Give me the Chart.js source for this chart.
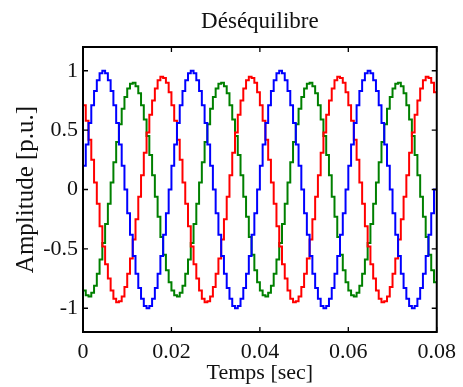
<!DOCTYPE html>
<html>
<head>
<meta charset="utf-8">
<script src="https://cdn.jsdelivr.net/npm/chart.js@4/dist/chart.umd.min.js"></script>
<style>
  html, body { margin: 0; padding: 0; background: #fff; }
  canvas { display: block; }
</style>
</head>
<body>
<canvas id="chart" width="463" height="387"></canvas>
<script>
// sample times [sec]
const time = [
  0, 0.000625, 0.00125, 0.001875, 0.0025, 0.003125, 0.00375, 0.004375,
  0.005, 0.005625, 0.00625, 0.006875, 0.0075, 0.008125, 0.00875, 0.009375,
  0.01, 0.010625, 0.01125, 0.011875, 0.0125, 0.013125, 0.01375, 0.014375,
  0.015, 0.015625, 0.01625, 0.016875, 0.0175, 0.018125, 0.01875, 0.019375,
  0.02, 0.020625, 0.02125, 0.021875, 0.0225, 0.023125, 0.02375, 0.024375,
  0.025, 0.025625, 0.02625, 0.026875, 0.0275, 0.028125, 0.02875, 0.029375,
  0.03, 0.030625, 0.03125, 0.031875, 0.0325, 0.033125, 0.03375, 0.034375,
  0.035, 0.035625, 0.03625, 0.036875, 0.0375, 0.038125, 0.03875, 0.039375,
  0.04, 0.040625, 0.04125, 0.041875, 0.0425, 0.043125, 0.04375, 0.044375,
  0.045, 0.045625, 0.04625, 0.046875, 0.0475, 0.048125, 0.04875, 0.049375,
  0.05, 0.050625, 0.05125, 0.051875, 0.0525, 0.053125, 0.05375, 0.054375,
  0.055, 0.055625, 0.05625, 0.056875, 0.0575, 0.058125, 0.05875, 0.059375,
  0.06, 0.060625, 0.06125, 0.061875, 0.0625, 0.063125, 0.06375, 0.064375,
  0.065, 0.065625, 0.06625, 0.066875, 0.0675, 0.068125, 0.06875, 0.069375,
  0.07, 0.070625, 0.07125, 0.071875, 0.0725, 0.073125, 0.07375, 0.074375,
  0.075, 0.075625, 0.07625, 0.076875, 0.0775, 0.078125, 0.07875, 0.079375,
  0.08
];

// phase a (blue)
const phaseA = [
  0, 0.2, 0.38, 0.56, 0.71, 0.83, 0.92, 0.98,
  1, 0.98, 0.92, 0.83, 0.71, 0.56, 0.38, 0.2,
  0, -0.2, -0.38, -0.56, -0.71, -0.83, -0.92, -0.98,
  -1, -0.98, -0.92, -0.83, -0.71, -0.56, -0.38, -0.2,
  0, 0.2, 0.38, 0.56, 0.71, 0.83, 0.92, 0.98,
  1, 0.98, 0.92, 0.83, 0.71, 0.56, 0.38, 0.2,
  0, -0.2, -0.38, -0.56, -0.71, -0.83, -0.92, -0.98,
  -1, -0.98, -0.92, -0.83, -0.71, -0.56, -0.38, -0.2,
  0, 0.2, 0.38, 0.56, 0.71, 0.83, 0.92, 0.98,
  1, 0.98, 0.92, 0.83, 0.71, 0.56, 0.38, 0.2,
  0, -0.2, -0.38, -0.56, -0.71, -0.83, -0.92, -0.98,
  -1, -0.98, -0.92, -0.83, -0.71, -0.56, -0.38, -0.2,
  0, 0.2, 0.38, 0.56, 0.71, 0.83, 0.92, 0.98,
  1, 0.98, 0.92, 0.83, 0.71, 0.56, 0.38, 0.2,
  0, -0.2, -0.38, -0.56, -0.71, -0.83, -0.92, -0.98,
  -1, -0.98, -0.92, -0.83, -0.71, -0.56, -0.38, -0.2,
  0
];

// phase b (red)
const phaseB = [
  0.82, 0.71, 0.58, 0.42, 0.25, 0.06, -0.12, -0.31,
  -0.48, -0.63, -0.75, -0.85, -0.92, -0.95, -0.94, -0.9,
  -0.82, -0.71, -0.58, -0.42, -0.25, -0.06, 0.12, 0.31,
  0.48, 0.63, 0.75, 0.85, 0.92, 0.95, 0.94, 0.9,
  0.82, 0.71, 0.58, 0.42, 0.25, 0.06, -0.12, -0.31,
  -0.48, -0.63, -0.75, -0.85, -0.92, -0.95, -0.94, -0.9,
  -0.82, -0.71, -0.58, -0.42, -0.25, -0.06, 0.12, 0.31,
  0.48, 0.63, 0.75, 0.85, 0.92, 0.95, 0.94, 0.9,
  0.82, 0.71, 0.58, 0.42, 0.25, 0.06, -0.12, -0.31,
  -0.48, -0.63, -0.75, -0.85, -0.92, -0.95, -0.94, -0.9,
  -0.82, -0.71, -0.58, -0.42, -0.25, -0.06, 0.12, 0.31,
  0.48, 0.63, 0.75, 0.85, 0.92, 0.95, 0.94, 0.9,
  0.82, 0.71, 0.58, 0.42, 0.25, 0.06, -0.12, -0.31,
  -0.48, -0.63, -0.75, -0.85, -0.92, -0.95, -0.94, -0.9,
  -0.82, -0.71, -0.58, -0.42, -0.25, -0.06, 0.12, 0.31,
  0.48, 0.63, 0.75, 0.85, 0.92, 0.95, 0.94, 0.9,
  0.82
];

// phase c (green)
const phaseC = [
  -0.78, -0.85, -0.89, -0.9, -0.87, -0.81, -0.71, -0.59,
  -0.45, -0.29, -0.12, 0.06, 0.23, 0.4, 0.55, 0.68,
  0.78, 0.85, 0.89, 0.9, 0.87, 0.81, 0.71, 0.59,
  0.45, 0.29, 0.12, -0.06, -0.23, -0.4, -0.55, -0.68,
  -0.78, -0.85, -0.89, -0.9, -0.87, -0.81, -0.71, -0.59,
  -0.45, -0.29, -0.12, 0.06, 0.23, 0.4, 0.55, 0.68,
  0.78, 0.85, 0.89, 0.9, 0.87, 0.81, 0.71, 0.59,
  0.45, 0.29, 0.12, -0.06, -0.23, -0.4, -0.55, -0.68,
  -0.78, -0.85, -0.89, -0.9, -0.87, -0.81, -0.71, -0.59,
  -0.45, -0.29, -0.12, 0.06, 0.23, 0.4, 0.55, 0.68,
  0.78, 0.85, 0.89, 0.9, 0.87, 0.81, 0.71, 0.59,
  0.45, 0.29, 0.12, -0.06, -0.23, -0.4, -0.55, -0.68,
  -0.78, -0.85, -0.89, -0.9, -0.87, -0.81, -0.71, -0.59,
  -0.45, -0.29, -0.12, 0.06, 0.23, 0.4, 0.55, 0.68,
  0.78, 0.85, 0.89, 0.9, 0.87, 0.81, 0.71, 0.59,
  0.45, 0.29, 0.12, -0.06, -0.23, -0.4, -0.55, -0.68,
  -0.78
];

const xTicks = [0, 0.02, 0.04, 0.06, 0.08];
const xTickLabels = ['0', '0.02', '0.04', '0.06', '0.08'];
const yTicks = [-1, -0.5, 0, 0.5, 1];
const yTickLabels = ['-1', '-0.5', '0', '0.5', '1'];

const FONT = 'Liberation Serif, Times New Roman, serif';

function toPoints(values) {
    return values.map((v, i) => ({ x: time[i], y: v }));
}

function makeSet(label, values, color) {
    return {
        label: label,
        data: toPoints(values),
        borderColor: color,
        backgroundColor: color,
        borderWidth: 2,
        pointRadius: 0,
        stepped: 'after',
        fill: false
    };
}

// matlab style box with inward ticks on all four sides
const boxPlugin = {
    id: 'box',
    afterDatasetsDraw(chart) {
        const { ctx, chartArea: a, scales } = chart;
        const len = 5;
        ctx.save();
        ctx.strokeStyle = '#000';
        ctx.lineWidth = 2;
        ctx.strokeRect(a.left, a.top, a.right - a.left, a.bottom - a.top);
        ctx.lineWidth = 1.3;
        ctx.beginPath();
        xTicks.forEach(v => {
            const px = scales.x.getPixelForValue(v);
            ctx.moveTo(px, a.bottom);
            ctx.lineTo(px, a.bottom - len);
            ctx.moveTo(px, a.top);
            ctx.lineTo(px, a.top + len);
        });
        yTicks.forEach(v => {
            const py = scales.y.getPixelForValue(v);
            ctx.moveTo(a.left, py);
            ctx.lineTo(a.left + len, py);
            ctx.moveTo(a.right, py);
            ctx.lineTo(a.right - len, py);
        });
        ctx.stroke();
        ctx.restore();
    }
};

const ctx = document.getElementById('chart').getContext('2d');
new Chart(ctx, {
    type: 'line',
    data: {
        datasets: [
            makeSet('a', phaseA, '#0000ff'),
            makeSet('b', phaseB, '#ff0000'),
            makeSet('c', phaseC, '#008000')
        ]
    },
    options: {
        responsive: false,
        animation: false,
        layout: { padding: { left: 0, right: 24, top: 0, bottom: 0 } },
        plugins: {
            legend: { display: false },
            tooltip: { enabled: false },
            title: {
                display: true,
                fullSize: false,
                text: 'Déséquilibre',
                color: '#111',
                font: { family: FONT, size: 23, weight: 'normal', lineHeight: 1.2 },
                padding: { top: 8, bottom: 11.4 }
            }
        },
        scales: {
            x: {
                type: 'linear',
                min: 0,
                max: 0.08,
                afterFit: s => { s.height = 55; },
                afterBuildTicks: s => { s.ticks = xTicks.map(v => ({ value: v })); },
                grid: { display: false, drawTicks: false },
                border: { display: false },
                ticks: {
                    color: '#111',
                    padding: 7,
                    maxRotation: 0,
                    font: { family: FONT, size: 22 },
                    callback: (v, i) => xTickLabels[i]
                },
                title: {
                    display: true,
                    text: 'Temps [sec]',
                    color: '#111',
                    font: { family: FONT, size: 22, lineHeight: 1 },
                    padding: { top: 0, bottom: 3 }
                }
            },
            y: {
                min: -1.2,
                max: 1.2,
                afterFit: s => { s.width = 83; },
                afterBuildTicks: s => { s.ticks = yTicks.map(v => ({ value: v })); },
                grid: { display: false, drawTicks: false },
                border: { display: false },
                ticks: {
                    color: '#111',
                    padding: 5,
                    font: { family: FONT, size: 22 },
                    callback: (v, i) => yTickLabels[i]
                },
                title: {
                    display: true,
                    text: 'Amplitude [p.u.]',
                    color: '#111',
                    font: { family: FONT, size: 25, lineHeight: 1 },
                    padding: { top: 13.5, bottom: 0 }
                }
            }
        }
    },
    plugins: [boxPlugin]
});
</script>
</body>
</html>
